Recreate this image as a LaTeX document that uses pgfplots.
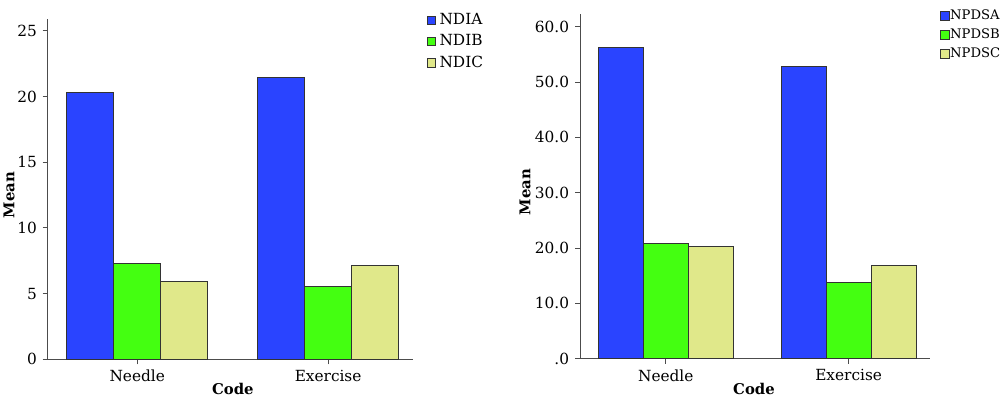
\documentclass[border=0pt]{standalone}
\usepackage{fontspec}
\setmainfont{DejaVu Serif}
\usepackage{pgfplots}
\pgfplotsset{compat=1.18}
\definecolor{cA}{HTML}{2A44FF}
\definecolor{cB}{HTML}{44FF11}
\definecolor{cC}{HTML}{E0E88A}
\newcommand{\fs}{\fontsize{9.2}{11}\selectfont}
\newcommand{\fl}{\fontsize{8.9}{10.6}\selectfont}
\newcommand{\fr}{\fontsize{7.9}{9.4}\selectfont}
\pgfplotsset{
  mybars/.style={
    scale only axis,
    ybar=0pt, bar width=0.246,
    xmin=-0.469, xmax=1.445, ymin=0,
    axis x line*=bottom, axis y line*=left,
    axis line style={-, black!70, line width=0.6pt},
    tick align=outside, major tick length=3pt,
    tick style={black!70, line width=0.6pt},
    xtick={0,1}, xticklabels={Needle,Exercise},
    tick label style={font=\fs},
    label style={font=\fl\bfseries},
    xlabel={Code}, ylabel={Mean},
    legend style={draw=none, fill=none, font=\fs, inner sep=0pt, legend cell align=left},
    legend image code/.code={\draw[#1, line width=0.5pt] (0pt,-2.5pt) rectangle (5pt,2.5pt);},
    every axis plot/.append style={draw=black!80, line width=0.6pt},
  }
}
\begin{document}
\begin{tikzpicture}
\path[use as bounding box] (0,0) rectangle (600pt,239.4pt);
\begin{axis}[mybars,
  at={(28.62pt,23.82pt)}, anchor=south west,
  width=219.2pt, height=204.2pt, ymax=25.9,
  ytick={0,5,10,15,20,25}, yticklabels={0,5,10,15,20,25},
  ylabel style={at={(axis description cs:-0.106,0.483)}, anchor=center},
  xlabel style={at={(axis description cs:0.507,-0.087)}, anchor=center},
  legend style={at={(1.0375,1.027)}, anchor=north west, row sep=0.6pt},
]
\addplot[fill=cA] coordinates {(0,20.32) (1,21.47)};
\addplot[fill=cB] coordinates {(0,7.32) (1,5.53)};
\addplot[fill=cC] coordinates {(0,5.94) (1,7.13)};
\legend{NDIA,NDIB,NDIC}
\end{axis}
\begin{axis}[mybars,
  at={(348pt,24.18pt)}, anchor=south west,
  width=210pt, height=206.8pt, ymax=62.3,
  ytick={0,10,20,30,40,50,60}, yticklabels={.0,10.0,20.0,30.0,40.0,50.0,60.0},
  ylabel style={at={(axis description cs:-0.157,0.483)}, anchor=center},
  xlabel style={at={(axis description cs:0.497,-0.088)}, anchor=center},
  legend style={at={(1.029,1.015)}, anchor=north west, row sep=3.5pt,
    font=\fr, nodes={inner sep=0.3pt}},
]
\addplot[fill=cA] coordinates {(0,56.2) (1,52.84)};
\addplot[fill=cB] coordinates {(0,20.85) (1,13.86)};
\addplot[fill=cC] coordinates {(0,20.24) (1,16.93)};
\legend{NPDSA,NPDSB,NPDSC}
\end{axis}
\end{tikzpicture}
\end{document}
